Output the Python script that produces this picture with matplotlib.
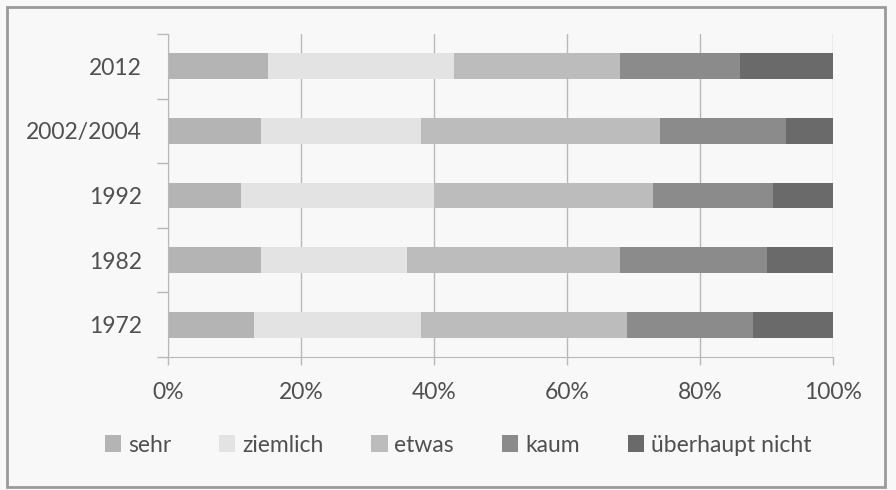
import matplotlib
matplotlib.use("Agg")
import matplotlib.pyplot as plt
from matplotlib.patches import Rectangle
import numpy as np

plt.rcParams['font.family'] = ['Lato', 'DejaVu Sans']

# survey years, bottom to top
years = ["1972", "1982", "1992", "2002/2004", "2012"]
categories = ["sehr", "ziemlich", "etwas", "kaum", "überhaupt nicht"]

# shares in percent, one list per answer, same order as years
sehr = [13, 14, 11, 14, 15]
ziemlich = [25, 22, 29, 24, 28]
etwas = [31, 32, 33, 36, 25]
kaum = [19, 22, 18, 19, 18]
ueberhaupt_nicht = [12, 10, 9, 7, 14]

series = [sehr, ziemlich, etwas, kaum, ueberhaupt_nicht]
colors = ["#b4b4b4", "#e3e3e3", "#bcbcbc", "#8b8b8b", "#6a6a6a"]
xticks = [0, 20, 40, 60, 80, 100]

text_col = "#505050"
grid_col = "#b9b9b9"
fs = 16.5

fig = plt.figure(figsize=(8.96, 4.9), dpi=100, facecolor="#f8f8f8")
ax = fig.add_axes([168 / 896, 1 - 357 / 490, 665 / 896, 323 / 490])
ax.set_facecolor("none")

y = np.arange(len(years))
left = np.zeros(len(years))
for vals, col, name in zip(series, colors, categories):
    ax.barh(y, vals, left=left, height=0.4, color=col, label=name, zorder=2)
    left += np.array(vals)

ax.set_xlim(0, 100)
ax.set_ylim(-0.5, len(years) - 0.5)
ax.set_xticks(xticks)
ax.set_xticklabels([f"{t}%" for t in xticks], fontsize=fs, color=text_col)
ax.set_yticks(y)
ax.set_yticklabels(years, fontsize=fs, color=text_col)
ax.tick_params(axis="y", which="major", length=0, pad=19)
ax.set_yticks(np.arange(-0.5, len(years)), minor=True)
ax.tick_params(axis="y", which="minor", length=8, color=grid_col, width=1)
ax.tick_params(axis="x", length=6, color=grid_col, width=1, pad=12)

ax.grid(axis="x", color=grid_col, linewidth=1, zorder=0)
for side in ["top", "right"]:
    ax.spines[side].set_visible(False)
ax.spines["left"].set_color(grid_col)
ax.spines["bottom"].set_color(grid_col)

fig.legend(loc="center", bbox_to_anchor=(458 / 896, 1 - 445 / 490), ncol=5,
           frameon=False, fontsize=fs, labelcolor=text_col,
           handlelength=0.7, handleheight=0.7, handletextpad=0.3,
           columnspacing=2.1)

# scan frame around the chart
fig.patches.append(Rectangle((7 / 896, 3 / 490), 878 / 896, 480 / 490,
                             transform=fig.transFigure, fill=False,
                             edgecolor="#9a9a9a", linewidth=2))

fig.savefig("out.png", dpi=100, facecolor=fig.get_facecolor())
